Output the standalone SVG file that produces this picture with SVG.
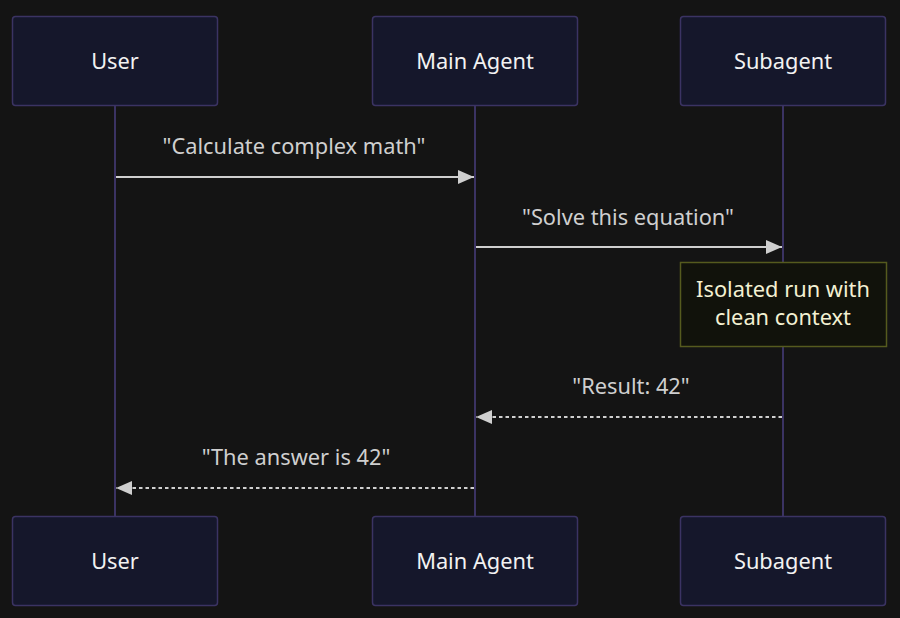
<svg xmlns="http://www.w3.org/2000/svg" width="900" height="618" viewBox="0 0 900 618">
<defs>
<style>
.actor{fill:#15172b;stroke:#3b3363;stroke-width:1.5}
.atext{font-family:"Noto Sans","Open Sans",sans-serif;font-size:21.8px;fill:#f2f2f2;text-anchor:middle}
.life{stroke:#3b3363;stroke-width:2}
.msg{stroke:#cfcfcf;stroke-width:2;fill:none}
.dash{stroke-dasharray:3.5 3}
.mtext{font-family:"Noto Sans","Open Sans",sans-serif;font-size:21.8px;fill:#cfcfcf;text-anchor:middle}
.note{fill:#11120b;stroke:#555a1e;stroke-width:1.5}
.ntext{font-family:"Noto Sans","Open Sans",sans-serif;font-size:21.8px;fill:#f3f0d2;text-anchor:middle}
</style>
<marker id="ah" viewBox="0 0 16 14" refX="16" refY="7" markerWidth="16" markerHeight="14" markerUnits="userSpaceOnUse" orient="auto">
<path d="M0,0 L16,7 L0,14 Z" fill="#cfcfcf"/>
</marker>
</defs>
<rect width="900" height="618" fill="#141414"/>
<g id="lifelines">
<line class="life" x1="115" y1="105" x2="115" y2="516"/>
<line class="life" x1="475" y1="105" x2="475" y2="516"/>
<line class="life" x1="783" y1="105" x2="783" y2="516"/>
</g>
<g id="user-top"><rect class="actor" x="12.5" y="16.5" width="205" height="89" rx="3"/><text class="atext" x="115" y="69">User</text></g>
<g id="main-top"><rect class="actor" x="372.5" y="16.5" width="205" height="89" rx="3"/><text class="atext" x="475" y="69">Main Agent</text></g>
<g id="sub-top"><rect class="actor" x="680.5" y="16.5" width="205" height="89" rx="3"/><text class="atext" x="783" y="69">Subagent</text></g>
<g id="user-bottom"><rect class="actor" x="12.5" y="516.5" width="205" height="89" rx="3"/><text class="atext" x="115" y="569">User</text></g>
<g id="main-bottom"><rect class="actor" x="372.5" y="516.5" width="205" height="89" rx="3"/><text class="atext" x="475" y="569">Main Agent</text></g>
<g id="sub-bottom"><rect class="actor" x="680.5" y="516.5" width="205" height="89" rx="3"/><text class="atext" x="783" y="569">Subagent</text></g>
<g id="note"><rect class="note" x="680.5" y="262.5" width="206" height="84"/><text class="ntext" x="783" y="297">Isolated run with</text><text class="ntext" x="783" y="325">clean context</text></g>
<g id="connectors">
<line class="msg" x1="116" y1="177" x2="474" y2="177" marker-end="url(#ah)"/>
<line class="msg" x1="476" y1="247" x2="782" y2="247" marker-end="url(#ah)"/>
<line class="msg dash" x1="782" y1="417" x2="476" y2="417" marker-end="url(#ah)"/>
<line class="msg dash" x1="474" y1="488" x2="116" y2="488" marker-end="url(#ah)"/>
</g>
<g id="labels">
<text class="mtext" x="294" y="154">"Calculate complex math"</text>
<text class="mtext" x="628" y="225">"Solve this equation"</text>
<text class="mtext" x="631" y="394">"Result: 42"</text>
<text class="mtext" x="296" y="465">"The answer is 42"</text>
</g>
</svg>
